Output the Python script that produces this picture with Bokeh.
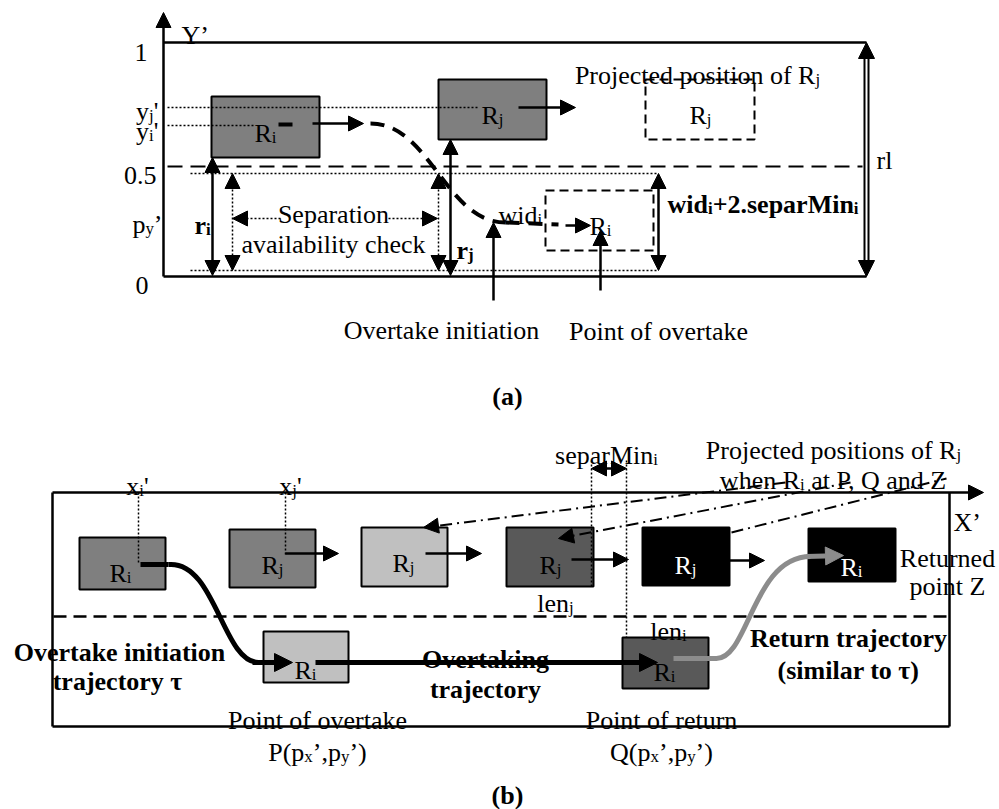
import re
from bokeh.plotting import figure
from bokeh.models import Range1d, ColumnDataSource, Arrow, NormalHead
from bokeh.core.properties import value, field
from bokeh.embed import file_html
from bokeh.resources import INLINE

# ---------------- diagram content (reference pixel coordinates) ----------------
# vehicle boxes: left, right, top, bottom, fill
A_BOXES = [(211, 319, 96, 157, "#7f7f7f"), (438, 546, 79, 139, "#7f7f7f")]
A_DASHED_BOXES = [(645, 754, 79, 139), (545, 653, 190, 250)]
B_BOXES = [(79, 165, 537, 589, "#7f7f7f"), (229, 315, 529, 587, "#7f7f7f"),
           (361, 447, 527, 586, "#c0c0c0"), (506, 593, 527, 586, "#595959"),
           (642, 729, 527, 585, "#000000"), (808, 895, 528, 581, "#000000"),
           (263, 348, 631, 682, "#c0c0c0"), (622, 708, 637, 688, "#595959")]

# frame lines: x0, y0, x1, y1
FRAME_LINES = [(163, 42, 866, 42), (163, 276, 866, 276),
               (52, 492, 52, 726), (52, 726, 949, 726), (949, 492, 949, 726)]
DASHED_LINES_A = [(167, 166, 862, 166)]
DASHED_LINES_B = [(53, 616, 949, 616)]
DOTTED_LINES = [(167, 107, 478, 107), (167, 125, 253, 125), (190, 173, 658, 173),
                (190, 270, 658, 270), (138, 492, 138, 563), (285, 492, 285, 555),
                (591, 460, 591, 586), (626, 460, 626, 637)]
DASHDOT_LINES = [(731, 532, 946, 478)]

# arrows: x_start, y_start, x_end (tip), y_end (tip)
AXIS_ARROWS = [(163, 276, 163, 12), (52, 492, 983, 492)]
MOTION_ARROWS = [(518, 107, 575, 107), (312, 123, 363, 123), (565, 225, 590, 225),
                 (493, 300, 493, 222), (600, 290, 600, 230),
                 (285, 553, 338, 553), (425, 553, 481, 553), (571, 559, 628, 559),
                 (729, 560, 764, 560)]
DOUBLE_ARROWS = [(212, 157, 212, 275), (450, 139, 450, 275), (658, 173, 658, 270),
                 (591, 468, 626, 468)]
DOTTED_DOUBLE_ARROWS = [(232, 173, 232, 270), (438, 173, 438, 270)]
DOTTED_ARROWS = [(280, 218, 232, 218), (388, 218, 437, 218)]
DASHDOT_ARROWS = [(785, 482, 423, 527), (850, 482, 558, 538)]
RL_ARROW = (866, 276, 866, 42)

# trajectories
A_TRAJ_DASH_SEGS = [(278, 124, 300, 124), (505, 222, 558, 224)]
A_TRAJ_CURVE = (370, 123, 505, 222, 430, 123, 445, 222)      # x0,y0,x1,y1,cx0,cy0,cx1,cy1
B_BLACK_SEG = (140, 564, 168, 564)
B_BLACK_CURVE = (168, 564, 258, 662, 215, 560, 222, 662)
B_BLACK_ARROWS = [(252, 662, 292, 662), (315, 662, 657, 662)]
B_GRAY_SEG = (673, 658, 716, 658)
B_GRAY_CURVE = (715, 658, 810, 556, 748, 660, 752, 556)
B_GRAY_ARROWS = [(806, 556, 843, 555)]

# texts: label (_{..} = subscript), x, baseline y, align, bold, colour
TEXTS = [
    ("Y’", 181, 35, "left", False, "black"),
    ("1", 147, 52, "right", False, "black"),
    ("y_{j}'", 158, 111, "right", False, "black"),
    ("y_{i}'", 158, 131, "right", False, "black"),
    ("0.5", 156, 175, "right", False, "black"),
    ("p_{y}’", 162, 224, "right", False, "black"),
    ("0", 148, 285, "right", False, "black"),
    ("Projected position of R_{j}", 697, 75, "center", False, "black"),
    ("R_{i}", 265, 133, "center", False, "black"),
    ("R_{j}", 492, 115, "center", False, "black"),
    ("R_{j}", 700, 115, "center", False, "black"),
    ("R_{i}", 600, 226, "center", False, "black"),
    ("wid_{i}", 498, 215, "left", False, "black"),
    ("Separation", 333, 214, "center", False, "black"),
    ("availability check", 333, 244, "center", False, "black"),
    ("Overtake initiation", 441, 330, "center", False, "black"),
    ("Point of overtake", 658, 331, "center", False, "black"),
    ("rl", 876, 160, "left", False, "black"),
    ("wid_{i}+2.separMin_{i}", 667, 204, "left", True, "black"),
    ("r_{i}", 194, 225, "left", True, "black"),
    ("r_{j}", 456, 250, "left", True, "black"),
    ("(a)", 507, 396, "center", True, "black"),
    ("x_{i}'", 137, 486, "center", False, "black"),
    ("x_{j}'", 290, 486, "center", False, "black"),
    ("R_{i}", 120, 573, "center", False, "black"),
    ("R_{j}", 272, 565, "center", False, "black"),
    ("R_{j}", 403, 563, "center", False, "black"),
    ("R_{j}", 550, 565, "center", False, "black"),
    ("R_{j}", 685, 565, "center", False, "white"),
    ("R_{i}", 851, 567, "center", False, "white"),
    ("Returned", 947, 558, "center", False, "black"),
    ("point Z", 947, 586, "center", False, "black"),
    ("X’", 953, 522, "left", False, "black"),
    ("Projected positions of R_{j}", 833, 450, "center", False, "black"),
    ("when R_{i} at P, Q and Z", 834, 480, "center", False, "black"),
    ("separMin_{i}", 606, 455, "center", False, "black"),
    ("len_{j}", 555, 603, "center", False, "black"),
    ("len_{i}", 668, 631, "center", False, "black"),
    ("R_{i}", 305, 670, "center", False, "black"),
    ("R_{i}", 664, 672, "center", False, "black"),
    ("Point of overtake", 317, 720, "center", False, "black"),
    ("Point of return", 661, 720, "center", False, "black"),
    ("P(p_{x}’,p_{y}’)", 317, 752, "center", False, "black"),
    ("Q(p_{x}’,p_{y}’)", 661, 752, "center", False, "black"),
    ("Overtake initiation", 119, 652, "center", True, "black"),
    ("trajectory τ", 117, 681, "center", True, "black"),
    ("Overtaking", 485, 659, "center", True, "black"),
    ("trajectory", 485, 689, "center", True, "black"),
    ("Return trajectory", 848, 638, "center", True, "black"),
    ("(similar to τ)", 848, 670, "center", True, "black"),
    ("(b)", 507, 795, "center", True, "black"),
]

# ---------------- font metrics (Times / Liberation Serif, per 1000 em) ----------------
FONT = "Liberation Serif"
FS = 26.0
SUB = 0.65
UP_R = [722,667,667,722,611,556,722,722,333,389,722,611,889,722,722,556,722,667,556,611,722,722,944,722,722,611]
LO_R = [444,500,444,500,444,333,500,500,278,278,500,278,778,500,500,500,500,333,389,278,500,500,722,500,500,444]
UP_B = [722,667,722,722,667,611,778,778,389,500,778,667,944,722,778,611,778,722,556,667,722,722,1000,722,722,667]
LO_B = [500,556,444,556,444,333,500,556,278,333,556,278,833,556,500,556,556,444,389,333,556,500,722,500,500,444]
ABC = "ABCDEFGHIJKLMNOPQRSTUVWXYZ"
REG = dict(zip(ABC, UP_R)); REG.update(zip(ABC.lower(), LO_R))
BLD = dict(zip(ABC, UP_B)); BLD.update(zip(ABC.lower(), LO_B))
REG.update({" ": 250, "'": 180, "’": 333, "(": 333, ")": 333, "+": 564, ",": 250, ".": 250, "τ": 440})
BLD.update({" ": 250, "'": 278, "’": 333, "(": 333, ")": 333, "+": 570, ",": 250, ".": 250, "τ": 460})
for d in "0123456789":
    REG[d] = 500
    BLD[d] = 500


def parse(label):
    runs = []
    for part in re.split(r"(_\{[^}]*\})", label):
        if not part:
            continue
        if part.startswith("_{"):
            runs.append((part[2:-1], True))
        else:
            runs.append((part, False))
    return runs


txt = dict(x=[], y=[], text=[], size=[], style=[], color=[])
for label, x, y, align, bold, color in TEXTS:
    table = BLD if bold else REG
    runs = parse(label)
    widths = []
    for t, sub in runs:
        sz = FS * SUB if sub else FS
        widths.append(sum(table.get(c, 500) for c in t) * sz / 1000.0)
    total = sum(widths)
    cx = x - total / 2 if align == "center" else (x - total if align == "right" else x)
    for (t, sub), w in zip(runs, widths):
        sz = FS * SUB if sub else FS
        lead = len(t) - len(t.lstrip(" "))
        if t.strip():
            txt["x"].append(cx + lead * table[" "] * sz / 1000.0)
            txt["y"].append(y + (0.17 * FS if sub else 0))
            txt["text"].append(t.strip(" "))
            txt["size"].append("%.1fpx" % sz)
            txt["style"].append("bold" if bold else "normal")
            txt["color"].append(color)
        cx += w

# ---------------- figure ----------------
W, H = 999, 809
p = figure(width=W, height=H, x_range=Range1d(0, W), y_range=Range1d(H, 0),
           toolbar_location=None, output_backend="svg", min_border=0,
           x_axis_location=None, y_axis_location=None)
p.grid.visible = False
p.outline_line_color = None
p.background_fill_color = "white"


def segs(rows, **kw):
    p.segment(x0=[r[0] for r in rows], y0=[r[1] for r in rows],
              x1=[r[2] for r in rows], y1=[r[3] for r in rows], **kw)


def arrows(rows, width, color="black", dash="solid", both=False, size=15, body_alpha=1.0):
    src = ColumnDataSource(dict(x0=[r[0] for r in rows], y0=[r[1] for r in rows],
                                x1=[r[2] for r in rows], y1=[r[3] for r in rows]))

    def head():
        return NormalHead(size=size, fill_color=color, line_color=color, line_width=1)

    p.add_layout(Arrow(source=src, x_start="x0", y_start="y0", x_end="x1", y_end="y1",
                       end=head(), start=head() if both else None,
                       line_width=width, line_color=color, line_dash=dash,
                       line_alpha=body_alpha))


def bez(c, **kw):
    p.bezier(x0=[c[0]], y0=[c[1]], x1=[c[2]], y1=[c[3]],
             cx0=[c[4]], cy0=[c[5]], cx1=[c[6]], cy1=[c[7]], **kw)


# boxes
allb = A_BOXES + B_BOXES
p.quad(left=[b[0] for b in allb], right=[b[1] for b in allb],
       top=[b[2] for b in allb], bottom=[b[3] for b in allb],
       fill_color=[b[4] for b in allb], line_color="black", line_width=2)
p.quad(left=[b[0] for b in A_DASHED_BOXES], right=[b[1] for b in A_DASHED_BOXES],
       top=[b[2] for b in A_DASHED_BOXES], bottom=[b[3] for b in A_DASHED_BOXES],
       fill_alpha=0, line_color="black", line_width=2, line_dash="9 5")

# frame, dashed separators, dotted guides
segs(FRAME_LINES, line_color="black", line_width=2.5)
segs(DASHED_LINES_A, line_color="black", line_width=2, line_dash="15 8")
segs(DASHED_LINES_B, line_color="black", line_width=2.5, line_dash="13 7")
segs(DOTTED_LINES, line_color="black", line_width=1.5, line_dash="2 2")
segs(DASHDOT_LINES, line_color="black", line_width=2, line_dash="12 5 2 5")

# rl double line
segs([(RL_ARROW[0], 56, RL_ARROW[2], 262)], line_color="black", line_width=6)
segs([(RL_ARROW[0], 56, RL_ARROW[2], 262)], line_color="white", line_width=2)

# trajectory (a): dashed
segs(A_TRAJ_DASH_SEGS, line_color="black", line_width=4, line_dash="14 9")
bez(A_TRAJ_CURVE, line_color="black", line_width=4, line_dash="14 9")

# trajectories (b)
segs([B_BLACK_SEG], line_color="black", line_width=5)
bez(B_BLACK_CURVE, line_color="black", line_width=5)
segs([B_GRAY_SEG], line_color="#8c8c8c", line_width=5)
bez(B_GRAY_CURVE, line_color="#8c8c8c", line_width=5)

# texts
p.text(x="x", y="y", text="text", source=ColumnDataSource(txt),
       text_font=value(FONT), text_font_size=field("size"),
       text_font_style=field("style"), text_color=field("color"),
       text_align="left", text_baseline="alphabetic")

# arrows
arrows(AXIS_ARROWS, 2.5, size=15)
arrows(MOTION_ARROWS, 2.5, size=15)
arrows(DOUBLE_ARROWS, 2.5, both=True, size=15)
arrows(DOTTED_DOUBLE_ARROWS, 1.5, dash="2 2", both=True, size=15)
arrows(DOTTED_ARROWS, 1.5, dash="2 2", size=15)
arrows(DASHDOT_ARROWS, 2, dash="12 5 2 5", size=15)
arrows([RL_ARROW], 1, both=True, size=16, body_alpha=0.0)
arrows(B_BLACK_ARROWS, 5, size=18)
arrows(B_GRAY_ARROWS, 5, color="#8c8c8c", size=18)

open("out.html", "w").write(file_html(p, INLINE))
